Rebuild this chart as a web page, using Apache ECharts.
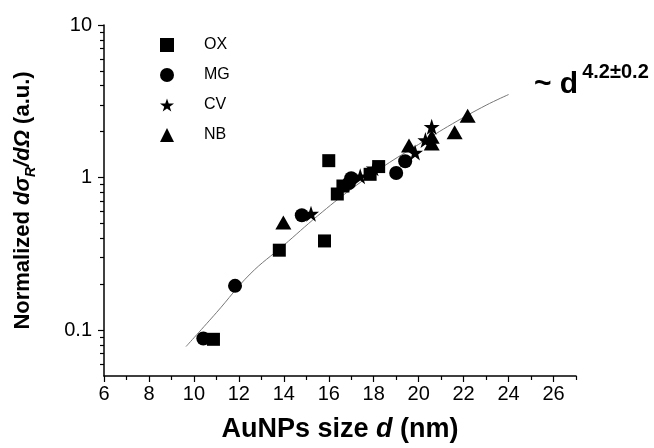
<!DOCTYPE html>
<html>
<head>
<meta charset="utf-8">
<script src="https://cdn.jsdelivr.net/npm/echarts@6/dist/echarts.min.js"></script>
<style>
  html, body { margin: 0; padding: 0; background: #fff; }
  #chart { width: 654px; height: 448px; }
</style>
</head>
<body>
<div id="chart"></div>
<script>
// AuNPs size d (nm) vs normalized cross section, one list per dye
const oxData = [[10.87, 0.087], [13.8, 0.334], [15.81, 0.384], [16.0, 1.29], [16.38, 0.78], [16.63, 0.88], [17.84, 1.05], [18.22, 1.18]];
const mgData = [[10.42, 0.088], [11.83, 0.195], [14.8, 0.566], [16.9, 0.92], [17.0, 0.99], [19.0, 1.07], [19.4, 1.28]];
const cvData = [[15.21, 0.58], [17.4, 1.02], [18.0, 1.15], [19.84, 1.46], [20.3, 1.76], [20.58, 2.15]];
const nbData = [[13.98, 0.507], [19.57, 1.62], [20.58, 1.67], [20.58, 1.85], [21.6, 1.98], [22.18, 2.54]];

// fit curve, points
const fitX = [9.65, 11, 12.5, 14, 15.5, 17, 18.5, 20, 21.5, 23, 24];
const fitY = [0.078, 0.13, 0.233, 0.36, 0.56, 0.84, 1.2, 1.65, 2.25, 2.98, 3.5];

const xMajor = [6, 8, 10, 12, 14, 16, 18, 20, 22, 24, 26];
const xMinor = [7, 9, 11, 13, 15, 17, 19, 21, 23, 25, 27];
const yMajor = [0.1, 1, 10];
const yMinor = [0.06, 0.07, 0.08, 0.09, 0.2, 0.3, 0.4, 0.5, 0.6, 0.7, 0.8, 0.9, 2, 3, 4, 5, 6, 7, 8, 9];

const starPath = 'path://M50,0 L61.8,35.1 L98.1,35.1 L68.8,56.8 L79.4,90.5 L50,69.8 L20.6,90.5 L31.2,56.8 L1.9,35.1 L38.2,35.1 Z';
const font = 'Liberation Sans, Arial, sans-serif';

const chart = echarts.init(document.getElementById('chart'));

const axisCommon = {
  axisLine: { show: true, lineStyle: { color: '#000', width: 1.5 } },
  splitLine: { show: false }
};

const option = {
  backgroundColor: '#fff',
  animation: false,
  grid: { left: 104, right: 78, top: 25, bottom: 71 },
  legend: {
    orient: 'vertical',
    left: 155,
    top: 32,
    itemWidth: 14,
    itemHeight: 14,
    itemGap: 14,
    textStyle: { fontFamily: font, fontSize: 16, color: '#000', padding: [0, 0, 0, 25] },
    data: ['OX', 'MG', 'CV', 'NB']
  },
  xAxis: [
    Object.assign({}, axisCommon, {
      type: 'value', min: 6, max: 27,
      axisTick: { show: true, length: 6, customValues: xMajor, lineStyle: { color: '#000', width: 1.2 } },
      axisLabel: { customValues: xMajor, fontFamily: font, fontSize: 20, color: '#000', margin: 8 },
      name: '{b|AuNPs size }{i|d}{b| (nm)}',
      nameLocation: 'middle',
      nameGap: 40,
      nameTextStyle: {
        rich: {
          b: { fontFamily: font, fontSize: 27, fontWeight: 'bold', color: '#000' },
          i: { fontFamily: font, fontSize: 27, fontWeight: 'bold', fontStyle: 'italic', color: '#000' }
        }
      }
    }),
    {
      type: 'value', min: 6, max: 27, position: 'bottom',
      axisLine: { show: false }, splitLine: { show: false },
      axisTick: { show: true, length: 4, customValues: xMinor, lineStyle: { color: '#000', width: 1.2 } },
      axisLabel: { show: false }
    }
  ],
  yAxis: [
    Object.assign({}, axisCommon, {
      type: 'log', min: 0.05, max: 10,
      axisTick: { show: true, length: 6, customValues: yMajor, lineStyle: { color: '#000', width: 1.2 } },
      axisLabel: { customValues: yMajor, fontFamily: font, fontSize: 20, color: '#000', margin: 12,
        formatter: v => String(+v.toPrecision(3)) },
      name: '{b|Normalized }{i|dσ}{s|R}{i|/dΩ}{b| (a.u.)}',
      nameLocation: 'middle',
      nameGap: 66,
      nameTextStyle: {
        rich: {
          b: { fontFamily: font, fontSize: 22, fontWeight: 'bold', color: '#000', lineHeight: 30, verticalAlign: 'middle' },
          i: { fontFamily: font, fontSize: 22, fontWeight: 'bold', fontStyle: 'italic', color: '#000', lineHeight: 30, verticalAlign: 'middle' },
          s: { fontFamily: font, fontSize: 14, fontWeight: 'bold', fontStyle: 'italic', color: '#000', lineHeight: 30, verticalAlign: 'bottom' }
        }
      }
    }),
    {
      type: 'log', min: 0.05, max: 10, position: 'left',
      axisLine: { show: false }, splitLine: { show: false },
      axisTick: { show: true, length: 4, customValues: yMinor, lineStyle: { color: '#000', width: 1.2 } },
      axisLabel: { show: false }
    }
  ],
  graphic: [{
    type: 'text',
    left: 534,
    top: 62,
    style: {
      text: '{t|~ d}{p|4.2±0.2}',
      rich: {
        t: { fontFamily: font, fontSize: 30, fontWeight: 'bold', fill: '#000', verticalAlign: 'bottom', lineHeight: 38 },
        p: { fontFamily: font, fontSize: 20, fontWeight: 'bold', fill: '#000', verticalAlign: 'top', lineHeight: 38, padding: [0, 0, 0, 4] }
      }
    }
  }],
  series: [
    {
      name: 'fit', type: 'line', smooth: 0.4, showSymbol: false, silent: true,
      data: fitX.map((x, i) => [x, fitY[i]]),
      lineStyle: { color: '#777', width: 1 },
      z: 1
    },
    { name: 'OX', type: 'scatter', symbol: 'rect', symbolSize: 13, data: oxData, itemStyle: { color: '#000', opacity: 1 } },
    { name: 'MG', type: 'scatter', symbol: 'circle', symbolSize: 14, data: mgData, itemStyle: { color: '#000', opacity: 1 } },
    { name: 'CV', type: 'scatter', symbol: starPath, symbolSize: 16, data: cvData, itemStyle: { color: '#000', opacity: 1 } },
    { name: 'NB', type: 'scatter', symbol: 'triangle', symbolSize: [16, 14], data: nbData, itemStyle: { color: '#000', opacity: 1 } }
  ]
};

chart.setOption(option);
</script>
</body>
</html>
